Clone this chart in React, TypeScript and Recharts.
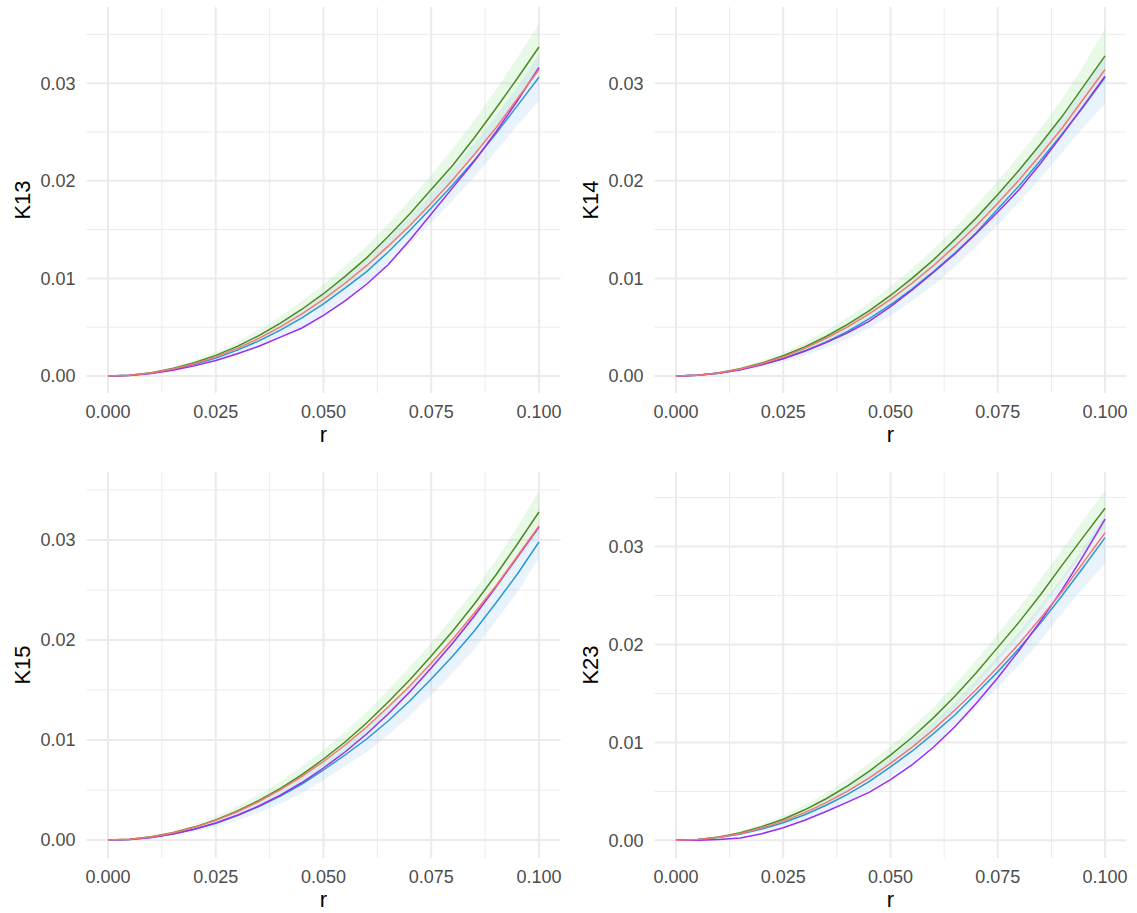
import React from 'react';
import { ComposedChart, Line, Area, XAxis, YAxis, CartesianGrid } from 'recharts';

const FONT = '"Liberation Sans", Arial, Helvetica, sans-serif';

const rValues = [0, 0.005, 0.01, 0.015, 0.02, 0.025, 0.03, 0.035, 0.04, 0.045, 0.05, 0.055, 0.06, 0.065, 0.07, 0.075, 0.08, 0.085, 0.09, 0.095, 0.1];
const xTicks = [0, 0.025, 0.05, 0.075, 0.1];
const xMinor = [0.0125, 0.0375, 0.0625, 0.0875];
const yTicks = [0, 0.01, 0.02, 0.03];
const yMinor = [0.005, 0.015, 0.025, 0.035];

// theoretical (red) curve
const theoretical = [0, 0.00008, 0.00031, 0.00071, 0.00126, 0.00196, 0.00283, 0.00385, 0.00503, 0.00636, 0.00785, 0.0095, 0.0113, 0.0133, 0.0154, 0.0177, 0.0201, 0.0227, 0.0254, 0.0284, 0.0314];

// K13
const k13Green = [0, 0.00008, 0.00033, 0.00076, 0.00136, 0.00211, 0.00304, 0.00414, 0.00541, 0.00684, 0.00843, 0.0102, 0.0121, 0.0143, 0.0166, 0.0191, 0.0216, 0.0244, 0.0274, 0.0305, 0.0337];
const k13Blue = [0, 0.00007, 0.00029, 0.00066, 0.00118, 0.00183, 0.00265, 0.0036, 0.0047, 0.00595, 0.0074, 0.009, 0.0107, 0.0127, 0.0149, 0.0172, 0.0196, 0.0221, 0.0248, 0.0277, 0.0306];
const k13Purple = [0, 0.00006, 0.00025, 0.00058, 0.00104, 0.00158, 0.00228, 0.00305, 0.00398, 0.00492, 0.0062, 0.0077, 0.0094, 0.0114, 0.0139, 0.0166, 0.0193, 0.022, 0.025, 0.0282, 0.0316];
const k13GreenHi = [0, 0.0001, 0.00041, 0.00092, 0.00162, 0.00248, 0.00352, 0.00474, 0.00613, 0.00768, 0.0094, 0.0113, 0.0133, 0.0156, 0.018, 0.0206, 0.0233, 0.0262, 0.0293, 0.0326, 0.0361];
const k13GreenLo = [0, 0.00006, 0.00026, 0.0006, 0.0011, 0.00174, 0.00256, 0.00354, 0.00469, 0.006, 0.0075, 0.0091, 0.0109, 0.013, 0.0152, 0.0176, 0.0199, 0.0226, 0.0255, 0.0284, 0.0313];
const k13BlueHi = [0, 0.00009, 0.00036, 0.0008, 0.00142, 0.0022, 0.00315, 0.00425, 0.0055, 0.0069, 0.0085, 0.0102, 0.012, 0.0141, 0.0163, 0.0187, 0.0212, 0.0238, 0.0266, 0.0296, 0.0329];
const k13BlueLo = [0, 0.00005, 0.00022, 0.00052, 0.00094, 0.00146, 0.00215, 0.00295, 0.0039, 0.005, 0.0063, 0.0078, 0.0094, 0.0113, 0.0135, 0.0157, 0.018, 0.0204, 0.023, 0.0257, 0.0282];

// K14
const k14Green = [0, 0.00008, 0.00033, 0.00075, 0.00133, 0.00207, 0.00298, 0.00405, 0.00529, 0.00668, 0.00825, 0.01, 0.0119, 0.014, 0.0162, 0.0186, 0.0211, 0.0238, 0.0266, 0.0297, 0.0328];
const k14Blue = [0, 0.00007, 0.00029, 0.00066, 0.00117, 0.0018, 0.00258, 0.0035, 0.00456, 0.00585, 0.0073, 0.0089, 0.0107, 0.0126, 0.0147, 0.0171, 0.0195, 0.0221, 0.0248, 0.0276, 0.0306];
const k14Purple = [0, 0.00007, 0.00028, 0.00064, 0.00114, 0.00176, 0.00254, 0.00342, 0.00442, 0.0056, 0.0071, 0.0088, 0.0106, 0.0125, 0.0146, 0.0168, 0.0191, 0.0218, 0.0247, 0.0277, 0.0307];
const k14GreenHi = [0, 0.0001, 0.00041, 0.0009, 0.00159, 0.00243, 0.00345, 0.00464, 0.006, 0.0075, 0.0092, 0.011, 0.013, 0.0152, 0.0175, 0.02, 0.0226, 0.0254, 0.0284, 0.0318, 0.0356];
const k14GreenLo = [0, 0.00006, 0.00025, 0.0006, 0.00107, 0.00171, 0.00251, 0.00346, 0.00458, 0.00586, 0.0073, 0.0089, 0.0107, 0.0127, 0.0149, 0.0172, 0.0196, 0.0222, 0.0249, 0.0277, 0.0303];
const k14BlueHi = [0, 0.00009, 0.00036, 0.0008, 0.0014, 0.00216, 0.0031, 0.0042, 0.0054, 0.0068, 0.0084, 0.0101, 0.012, 0.014, 0.0162, 0.0186, 0.0211, 0.0237, 0.0265, 0.0295, 0.0328];
const k14BlueLo = [0, 0.00005, 0.00022, 0.00052, 0.00093, 0.00145, 0.0021, 0.00288, 0.0038, 0.0049, 0.0062, 0.0077, 0.0093, 0.0112, 0.0133, 0.0155, 0.0178, 0.0203, 0.0229, 0.0255, 0.0279];

// K15
const k15Green = [0, 0.00008, 0.00032, 0.00072, 0.00129, 0.00201, 0.0029, 0.00395, 0.00516, 0.00654, 0.0081, 0.0098, 0.0117, 0.0138, 0.016, 0.0184, 0.0209, 0.0236, 0.0265, 0.0296, 0.0328];
const k15Blue = [0, 0.00006, 0.00026, 0.0006, 0.00107, 0.00168, 0.00245, 0.00335, 0.0044, 0.0056, 0.007, 0.0085, 0.0101, 0.0119, 0.0139, 0.0161, 0.0184, 0.0209, 0.0237, 0.0266, 0.0298];
const k15Purple = [0, 0.00006, 0.00026, 0.0006, 0.00108, 0.0017, 0.00248, 0.0034, 0.00448, 0.00575, 0.0072, 0.0088, 0.0106, 0.0126, 0.0148, 0.0172, 0.0197, 0.0224, 0.0253, 0.0283, 0.0313];
const k15GreenHi = [0, 0.0001, 0.0004, 0.00088, 0.00155, 0.00238, 0.00338, 0.00455, 0.00588, 0.00738, 0.009, 0.0108, 0.0128, 0.015, 0.0173, 0.0197, 0.0223, 0.025, 0.028, 0.0313, 0.0349];
const k15GreenLo = [0, 0.00006, 0.00024, 0.00056, 0.00103, 0.00164, 0.00242, 0.00335, 0.00444, 0.0057, 0.0072, 0.0088, 0.0106, 0.0126, 0.0147, 0.0171, 0.0195, 0.0222, 0.025, 0.0279, 0.0307];
const k15BlueHi = [0, 0.00008, 0.00033, 0.00075, 0.00132, 0.00205, 0.00293, 0.00397, 0.00516, 0.0065, 0.008, 0.0096, 0.0114, 0.0133, 0.0154, 0.0177, 0.0201, 0.0227, 0.0255, 0.0284, 0.0315];
const k15BlueLo = [0, 0.00004, 0.00019, 0.00045, 0.00082, 0.00131, 0.00197, 0.00273, 0.00364, 0.0047, 0.006, 0.0074, 0.0088, 0.0105, 0.0124, 0.0145, 0.0167, 0.0191, 0.0219, 0.0248, 0.0282];

// K23
const k23Green = [0, 0.00008, 0.00034, 0.00078, 0.0014, 0.00216, 0.00312, 0.00425, 0.00556, 0.00705, 0.0087, 0.0105, 0.0125, 0.0147, 0.0171, 0.0197, 0.0223, 0.0251, 0.0281, 0.031, 0.0339];
const k23Blue = [0, 0.00007, 0.00029, 0.00065, 0.00115, 0.0018, 0.00262, 0.00358, 0.0047, 0.006, 0.0075, 0.0091, 0.0109, 0.0128, 0.015, 0.0172, 0.0196, 0.0222, 0.025, 0.0279, 0.0309];
const k23Purple = [0, 0.00002, 0.00008, 0.00025, 0.00068, 0.00128, 0.00205, 0.00295, 0.0039, 0.0049, 0.0062, 0.0077, 0.0095, 0.0116, 0.014, 0.0166, 0.0194, 0.0224, 0.0256, 0.0291, 0.0328];
const k23GreenHi = [0, 0.0001, 0.00042, 0.00094, 0.00165, 0.00253, 0.0036, 0.00485, 0.00627, 0.00787, 0.0096, 0.0115, 0.0136, 0.0159, 0.0184, 0.0211, 0.0238, 0.0267, 0.0297, 0.0327, 0.0357];
const k23GreenLo = [0, 0.00006, 0.00026, 0.00062, 0.00115, 0.00179, 0.00264, 0.00365, 0.00485, 0.00623, 0.0078, 0.0095, 0.0114, 0.0135, 0.0158, 0.0183, 0.0208, 0.0235, 0.0265, 0.0293, 0.0321];
const k23BlueHi = [0, 0.00009, 0.00036, 0.00079, 0.0014, 0.00216, 0.0031, 0.0042, 0.0055, 0.0069, 0.0085, 0.0102, 0.0121, 0.0141, 0.0164, 0.0188, 0.0213, 0.024, 0.0268, 0.0299, 0.0333];
const k23BlueLo = [0, 0.00005, 0.00022, 0.00051, 0.00091, 0.00144, 0.00214, 0.00296, 0.0039, 0.0051, 0.0065, 0.008, 0.0097, 0.0115, 0.0136, 0.0156, 0.0179, 0.0204, 0.0232, 0.0258, 0.0283];

const COLORS = {
  green: '#4C8A22',
  red: '#F8766D',
  blue: '#2A98D4',
  purple: '#9B2CF2',
  greenBand: '#8FE08A',
  blueBand: '#9CC8EE',
  grid: '#EBEBEB',
  tick: '#4D4D4D',
};

function buildRows(g: number[], b: number[], p: number[], gLo: number[], gHi: number[], bLo: number[], bHi: number[]) {
  return rValues.map((r, i) => ({
    r,
    green: g[i],
    blue: b[i],
    purple: p[i],
    red: theoretical[i],
    greenBand: [gLo[i], gHi[i]],
    blueBand: [bLo[i], bHi[i]],
  }));
}

const panels = [
  { title: 'K13', left: 0, top: 0, width: 568, height: 455, mTop: 7, mRight: 7.5, xH: 62, yDomain: [-0.00174, 0.0378],
    rows: buildRows(k13Green, k13Blue, k13Purple, k13GreenLo, k13GreenHi, k13BlueLo, k13BlueHi) },
  { title: 'K14', left: 568, top: 0, width: 569, height: 455, mTop: 7, mRight: 10.5, xH: 62, yDomain: [-0.00174, 0.0378],
    rows: buildRows(k14Green, k14Blue, k14Purple, k14GreenLo, k14GreenHi, k14BlueLo, k14BlueHi) },
  { title: 'K15', left: 0, top: 455, width: 568, height: 458, mTop: 17, mRight: 7.5, xH: 55, yDomain: [-0.0018, 0.0368],
    rows: buildRows(k15Green, k15Blue, k15Purple, k15GreenLo, k15GreenHi, k15BlueLo, k15BlueHi) },
  { title: 'K23', left: 568, top: 455, width: 569, height: 458, mTop: 17, mRight: 10.5, xH: 55, yDomain: [-0.0018, 0.0376],
    rows: buildRows(k23Green, k23Blue, k23Purple, k23GreenLo, k23GreenHi, k23BlueLo, k23BlueHi) },
];

const YTitle = (props: any) => {
  const vb = props.viewBox || {};
  const x = vb.x + 22;
  const y = vb.y + vb.height / 2;
  return (
    <text x={x} y={y} transform={`rotate(-90 ${x} ${y})`} textAnchor="middle" dominantBaseline="central"
      fill="#000" fontSize={22} fontFamily={FONT}>{props.text}</text>
  );
};

const XTitle = (props: any) => {
  const vb = props.viewBox || {};
  return (
    <text x={vb.x + vb.width / 2} y={vb.y + 49} textAnchor="middle" fill="#000" fontSize={22} fontFamily={FONT}>r</text>
  );
};

function Panel({ p }: { p: any }) {
  return (
    <div style={{ position: 'absolute', left: p.left, top: p.top, width: p.width, height: p.height }}>
      <ComposedChart width={p.width} height={p.height} data={p.rows}
        margin={{ top: p.mTop, right: p.mRight, bottom: 0, left: 0 }}>
        <CartesianGrid horizontalValues={yMinor} verticalValues={xMinor} stroke={COLORS.grid} strokeWidth={1} />
        <CartesianGrid horizontalValues={yTicks} verticalValues={xTicks} stroke={COLORS.grid} strokeWidth={2} />
        <XAxis type="number" dataKey="r" domain={[-0.005, 0.105]} ticks={xTicks} allowDataOverflow
          tickFormatter={(v: number) => v.toFixed(3)} axisLine={false} tickLine={false} tickSize={0} tickMargin={12}
          height={p.xH} interval={0}
          tick={{ fill: COLORS.tick, fontSize: 18, fontFamily: FONT }}
          label={(lp: any) => <XTitle {...lp} />} />
        <YAxis type="number" domain={p.yDomain} ticks={yTicks} allowDataOverflow width={86.5}
          tickFormatter={(v: number) => v.toFixed(2)} axisLine={false} tickLine={false} tickSize={0} tickMargin={11}
          interval={0}
          tick={{ fill: COLORS.tick, fontSize: 18, fontFamily: FONT }}
          label={(lp: any) => <YTitle {...lp} text={p.title} />} />
        <Area type="linear" dataKey="greenBand" stroke="none" fill={COLORS.greenBand} fillOpacity={0.2} isAnimationActive={false} />
        <Area type="linear" dataKey="blueBand" stroke="none" fill={COLORS.blueBand} fillOpacity={0.22} isAnimationActive={false} />
        <Line type="linear" dataKey="green" stroke={COLORS.green} strokeWidth={1.5} dot={false} isAnimationActive={false} />
        <Line type="linear" dataKey="blue" stroke={COLORS.blue} strokeWidth={1.5} dot={false} isAnimationActive={false} />
        <Line type="linear" dataKey="purple" stroke={COLORS.purple} strokeWidth={1.5} dot={false} isAnimationActive={false} />
        <Line type="linear" dataKey="red" stroke={COLORS.red} strokeWidth={1.5} dot={false} isAnimationActive={false} />
      </ComposedChart>
    </div>
  );
}

export default function App() {
  return (
    <div style={{ position: 'absolute', left: 0, top: 0, width: 1137, height: 913, background: '#fff', overflow: 'hidden' }}>
      {panels.map((p) => <Panel key={p.title} p={p} />)}
    </div>
  );
}
